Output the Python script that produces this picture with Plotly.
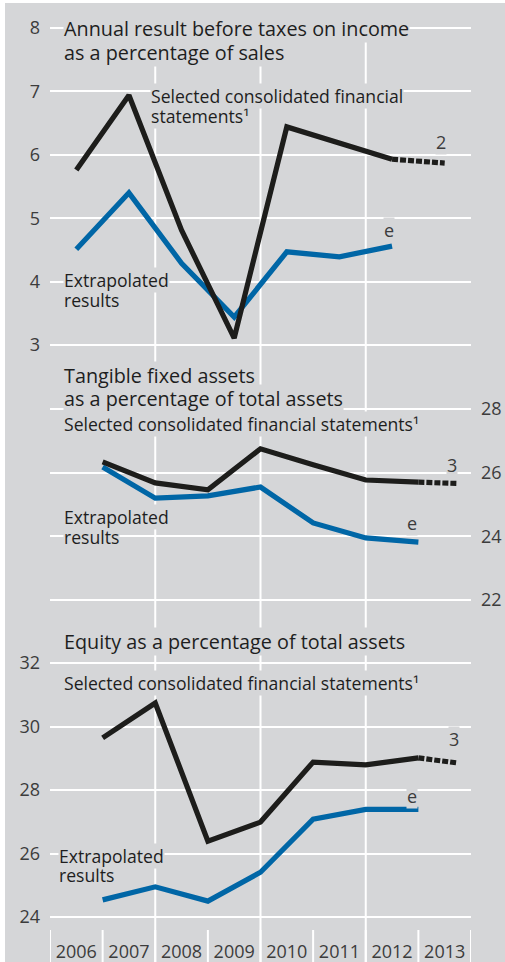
import plotly.graph_objects as go

# ---------------- data ----------------
years = [2006, 2007, 2008, 2009, 2010, 2011, 2012, 2013]
year_labels = ["2006", "2007", "2008", "2009", "2010", "2011", "2012", "2013"]

# Panel 1: annual result before taxes as % of sales (plotted mid-year)
p1_x = [2006, 2007, 2008, 2009, 2010, 2011, 2012]
p1_black = [5.76, 6.94, 4.81, 3.11, 6.44, 6.18, 5.93]
p1_black_est_x = [2012, 2013]
p1_black_est = [5.93, 5.87]
p1_blue = [4.51, 5.40, 4.29, 3.44, 4.47, 4.39, 4.56]

# Panel 2: tangible fixed assets as % of total assets (plotted end-of-year)
p2_x = [2006.5, 2007.5, 2008.5, 2009.5, 2010.5, 2011.5, 2012.5]
p2_black = [26.34, 25.68, 25.46, 26.75, 26.25, 25.77, 25.70]
p2_black_est_x = [2012.5, 2013.25]
p2_black_est = [25.70, 25.66]
p2_blue = [26.18, 25.20, 25.27, 25.55, 24.42, 23.95, 23.82]

# Panel 3: equity as % of total assets (plotted end-of-year)
p3_x = [2006.5, 2007.5, 2008.5, 2009.5, 2010.5, 2011.5, 2012.5]
p3_black = [29.64, 30.74, 26.39, 26.99, 28.88, 28.79, 29.01]
p3_black_est_x = [2012.5, 2013.25]
p3_black_est = [29.01, 28.85]
p3_blue = [24.54, 24.95, 24.50, 25.41, 27.08, 27.39, 27.39]

p1_ticks = [3, 4, 5, 6, 7, 8]
p2_ticks = [22, 24, 26, 28]
p3_ticks = [24, 26, 28, 30, 32]

# ---------------- style ----------------
W, H = 505, 962
BG = "#d5d6d8"
BLACK = "#1d1d1b"
BLUE = "#0066a6"
TXT = "#1e1e1e"
TICK = "#3c3c3c"
FONT = "Open Sans"
LW = 5.2


def py(p):
    return 1 - p / H


def px(p):
    return p / W


X0, X1 = 50, 471  # plot horizontal pixel span


def ydomain(top_px, bot_px, vmin, vmax, pad):
    ppu = (bot_px - top_px) / (vmax - vmin)
    return [py(bot_px + pad * ppu), py(top_px - pad * ppu)], [vmin - pad, vmax + pad]


d1, r1 = ydomain(28, 345, 3, 8, 0.12)
d2, r2 = ydomain(409, 600, 22, 28, 0.2)
d3, r3 = ydomain(663, 917, 24, 32, 0.2)

fig = go.Figure()


def add_panel(ax, xs, black, ex, ey, blue):
    fig.add_trace(go.Scatter(x=xs, y=blue, mode="lines", yaxis=ax,
                             line=dict(color=BLUE, width=LW), hoverinfo="skip"))
    fig.add_trace(go.Scatter(x=xs, y=black, mode="lines", yaxis=ax,
                             line=dict(color=BLACK, width=LW), hoverinfo="skip"))
    fig.add_trace(go.Scatter(x=ex, y=ey, mode="lines", yaxis=ax,
                             line=dict(color=BLACK, width=LW, dash="6px,2px"),
                             hoverinfo="skip"))


add_panel("y", p1_x, p1_black, p1_black_est_x, p1_black_est, p1_blue)
add_panel("y2", p2_x, p2_black, p2_black_est_x, p2_black_est, p2_blue)
add_panel("y3", p3_x, p3_black, p3_black_est_x, p3_black_est, p3_blue)

TKS = 18
yax_common = dict(showgrid=True, gridcolor="white", gridwidth=2, zeroline=False,
                  showline=False, ticks="", automargin=False,
                  tickfont=dict(family=FONT, size=TKS, color=TICK), fixedrange=True)

fig.update_layout(
    template="none",
    width=W, height=H, autosize=False,
    margin=dict(l=0, r=0, t=0, b=0, pad=0),
    paper_bgcolor=BG, plot_bgcolor="rgba(0,0,0,0)",
    showlegend=False,
    font=dict(family=FONT, color=TXT),
    xaxis=dict(domain=[px(X0), px(X1)], range=[2005.5, 2013.5], anchor="y3",
               tickmode="array", tickvals=years, ticktext=year_labels,
               showgrid=False, zeroline=False, showline=False, ticks="",
               ticklabelstandoff=16, fixedrange=True, automargin=False,
               tickfont=dict(family=FONT, size=TKS, color=TICK)),
    yaxis=dict(domain=d1, range=r1, anchor="x", side="left",
               tickmode="array", tickvals=p1_ticks, ticklabelstandoff=9, **yax_common),
    yaxis2=dict(domain=d2, range=r2, anchor="x", side="right",
                tickmode="array", tickvals=p2_ticks, ticklabelstandoff=9, **yax_common),
    yaxis3=dict(domain=d3, range=r3, anchor="x", side="left",
                tickmode="array", tickvals=p3_ticks, ticklabelstandoff=9, **yax_common),
)

shapes = []
for b in [2007.5, 2009.5, 2011.5]:
    shapes.append(dict(type="line", xref="x", yref="paper", x0=b, x1=b,
                       y0=0, y1=py(28), line=dict(color="white", width=2), layer="below"))
for b in [2005.5 + i for i in range(9)]:
    shapes.append(dict(type="line", xref="x", yref="paper", x0=b, x1=b,
                       y0=0, y1=py(930), line=dict(color="white", width=2), layer="below"))
shapes.append(dict(type="rect", xref="paper", yref="paper", x0=0, x1=px(5), y0=0, y1=1,
                   fillcolor="white", line=dict(width=0), layer="above"))
shapes.append(dict(type="rect", xref="paper", yref="paper", x0=0, x1=1, y0=py(3), y1=1,
                   fillcolor="white", line=dict(width=0), layer="above"))
fig.update_layout(shapes=shapes)


def label(text, xp, yp, size=17, anchor="left", color=TXT):
    fig.add_annotation(text=text, xref="paper", yref="paper", x=px(xp), y=py(yp),
                       xanchor=anchor, yanchor="middle", showarrow=False,
                       bgcolor=BG, borderpad=0,
                       font=dict(family=FONT, size=size, color=color))


TS = 19.8  # title size
LS = 17.6  # series label size

# lower lines are added first so the upper line's background never hides them
# panel 1
label("as a percentage of sales", 63, 53, TS)
label("Annual result before taxes on income", 63, 29, TS)
label("statements¹", 150, 116, LS)
label("Selected consolidated financial", 150, 96, LS)
label("results", 63, 300, LS)
label("Extrapolated", 63, 280, LS)
label("2", 441, 142, TKS, "center", TICK)
label("e", 389, 230, TKS, "center", TICK)

# panel 2
label("Selected consolidated financial statements¹", 63, 424, LS)
label("as a percentage of total assets", 63, 398, TS)
label("Tangible fixed assets", 63, 375, TS)
label("results", 63, 537, LS)
label("Extrapolated", 63, 517, LS)
label("3", 452, 465, TKS, "center", TICK)
label("e", 412, 523, TKS, "center", TICK)

# panel 3
label("Equity as a percentage of total assets", 63, 641, TS)
label("Selected consolidated financial statements¹", 63, 683, LS)
label("results", 58, 875, LS)
label("Extrapolated", 58, 856, LS)
label("3", 454, 739, TKS, "center", TICK)
label("e", 412, 796, TKS, "center", TICK)

fig.write_html("out.html", config={"displayModeBar": False, "staticPlot": True})

# remove the default page margin so the figure sits at the window's top-left corner
with open("out.html", encoding="utf-8") as f:
    html = f.read()
html = html.replace("<head>", "<head><style>html,body{margin:0;padding:0;overflow:hidden;}</style>", 1)
with open("out.html", "w", encoding="utf-8") as f:
    f.write(html)
